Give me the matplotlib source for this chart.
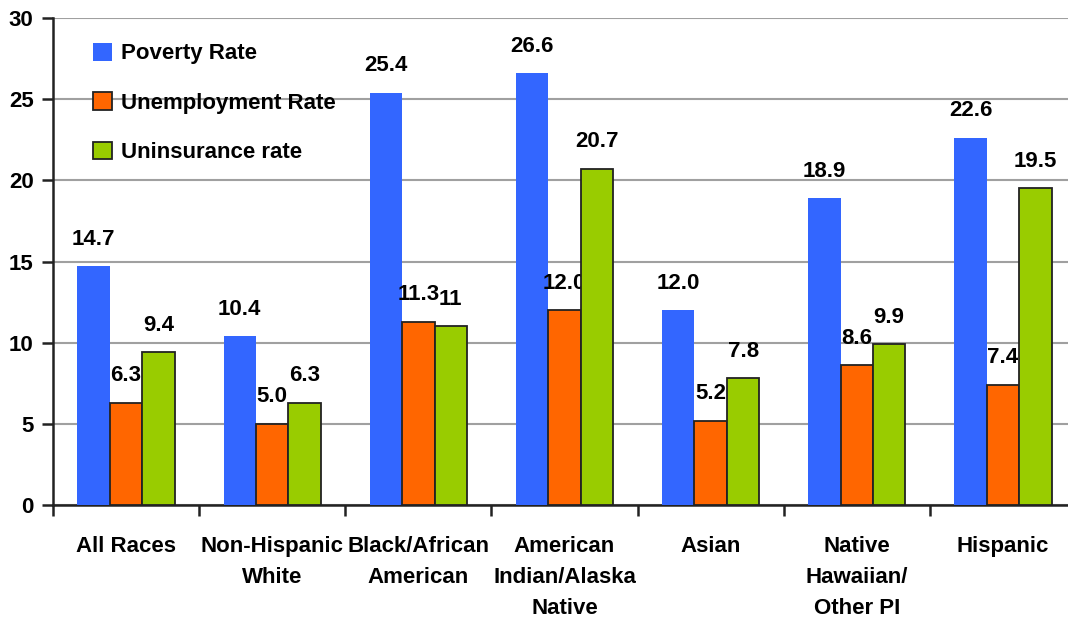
import numpy as np
import matplotlib
matplotlib.use("Agg")
import matplotlib.pyplot as plt
from matplotlib.patches import Patch

plt.rcParams['font.family'] = ['Liberation Sans Narrow', 'Liberation Sans', 'DejaVu Sans']
plt.rcParams['font.weight'] = 'bold'

categories = ["All Races", "Non-Hispanic\nWhite", "Black/African\nAmerican",
              "American\nIndian/Alaska\nNative", "Asian", "Native\nHawaiian/\nOther PI", "Hispanic"]
poverty = [14.7, 10.4, 25.4, 26.6, 12.0, 18.9, 22.6]
unemployment = [6.3, 5.0, 11.3, 12.0, 5.2, 8.6, 7.4]
uninsurance = [9.4, 6.3, 11, 20.7, 7.8, 9.9, 19.5]
poverty_lbl = ["14.7", "10.4", "25.4", "26.6", "12.0", "18.9", "22.6"]
unemployment_lbl = ["6.3", "5.0", "11.3", "12.0", "5.2", "8.6", "7.4"]
uninsurance_lbl = ["9.4", "6.3", "11", "20.7", "7.8", "9.9", "19.5"]

series = [
    ("Poverty Rate", poverty, poverty_lbl, "#3366FF", "none"),
    ("Unemployment Rate", unemployment, unemployment_lbl, "#FF6600", "#222222"),
    ("Uninsurance rate", uninsurance, uninsurance_lbl, "#99CC00", "#222222"),
]

fig = plt.figure(figsize=(10.68, 6.26), dpi=100)
ax = fig.add_axes([53/1068, 121/626, 1023/1068, 487/626])

x = np.arange(len(categories))
w = 0.222
handles = []
for i, (name, vals, lbls, col, ec) in enumerate(series):
    pos = x + (i - 1) * w
    ax.bar(pos, vals, w, color=col, edgecolor=ec, linewidth=1.3, zorder=3)
    for px, v, t in zip(pos, vals, lbls):
        ax.annotate(t, (px, v), xytext=(0, 12), textcoords="offset points",
                    ha="center", va="bottom", fontsize=16, fontweight="bold")
    handles.append(Patch(facecolor=col, edgecolor=ec, linewidth=1.3, label=name))

ax.set_xlim(-0.5, len(categories) - 0.5)
ax.set_ylim(0, 30)
ax.set_yticks(np.arange(0, 31, 5))
ax.yaxis.grid(True, color="#A0A0A0", linewidth=1.5, zorder=0)
ax.set_axisbelow(True)

ax.set_xticks(x)
ax.set_xticklabels(categories, fontsize=16, fontweight="bold", linespacing=1.65)
ax.set_xticks(np.arange(-0.5, len(categories), 1), minor=True)
ax.tick_params(axis="x", which="major", length=0, pad=22)
ax.tick_params(axis="x", which="minor", length=8, width=1.8, color="#222222")
ax.tick_params(axis="y", length=8, width=1.8, color="#222222", labelsize=16, pad=6)

for s in ["top", "right"]:
    ax.spines[s].set_visible(False)
for s in ["left", "bottom"]:
    ax.spines[s].set_linewidth(1.8)
    ax.spines[s].set_color("#222222")

ax.legend(handles=handles, loc="upper left", bbox_to_anchor=(0.02, 0.99), frameon=False,
          fontsize=16, handlelength=0.85, handleheight=0.85, labelspacing=1.25, handletextpad=0.4)

fig.savefig("out.png", dpi=100)
